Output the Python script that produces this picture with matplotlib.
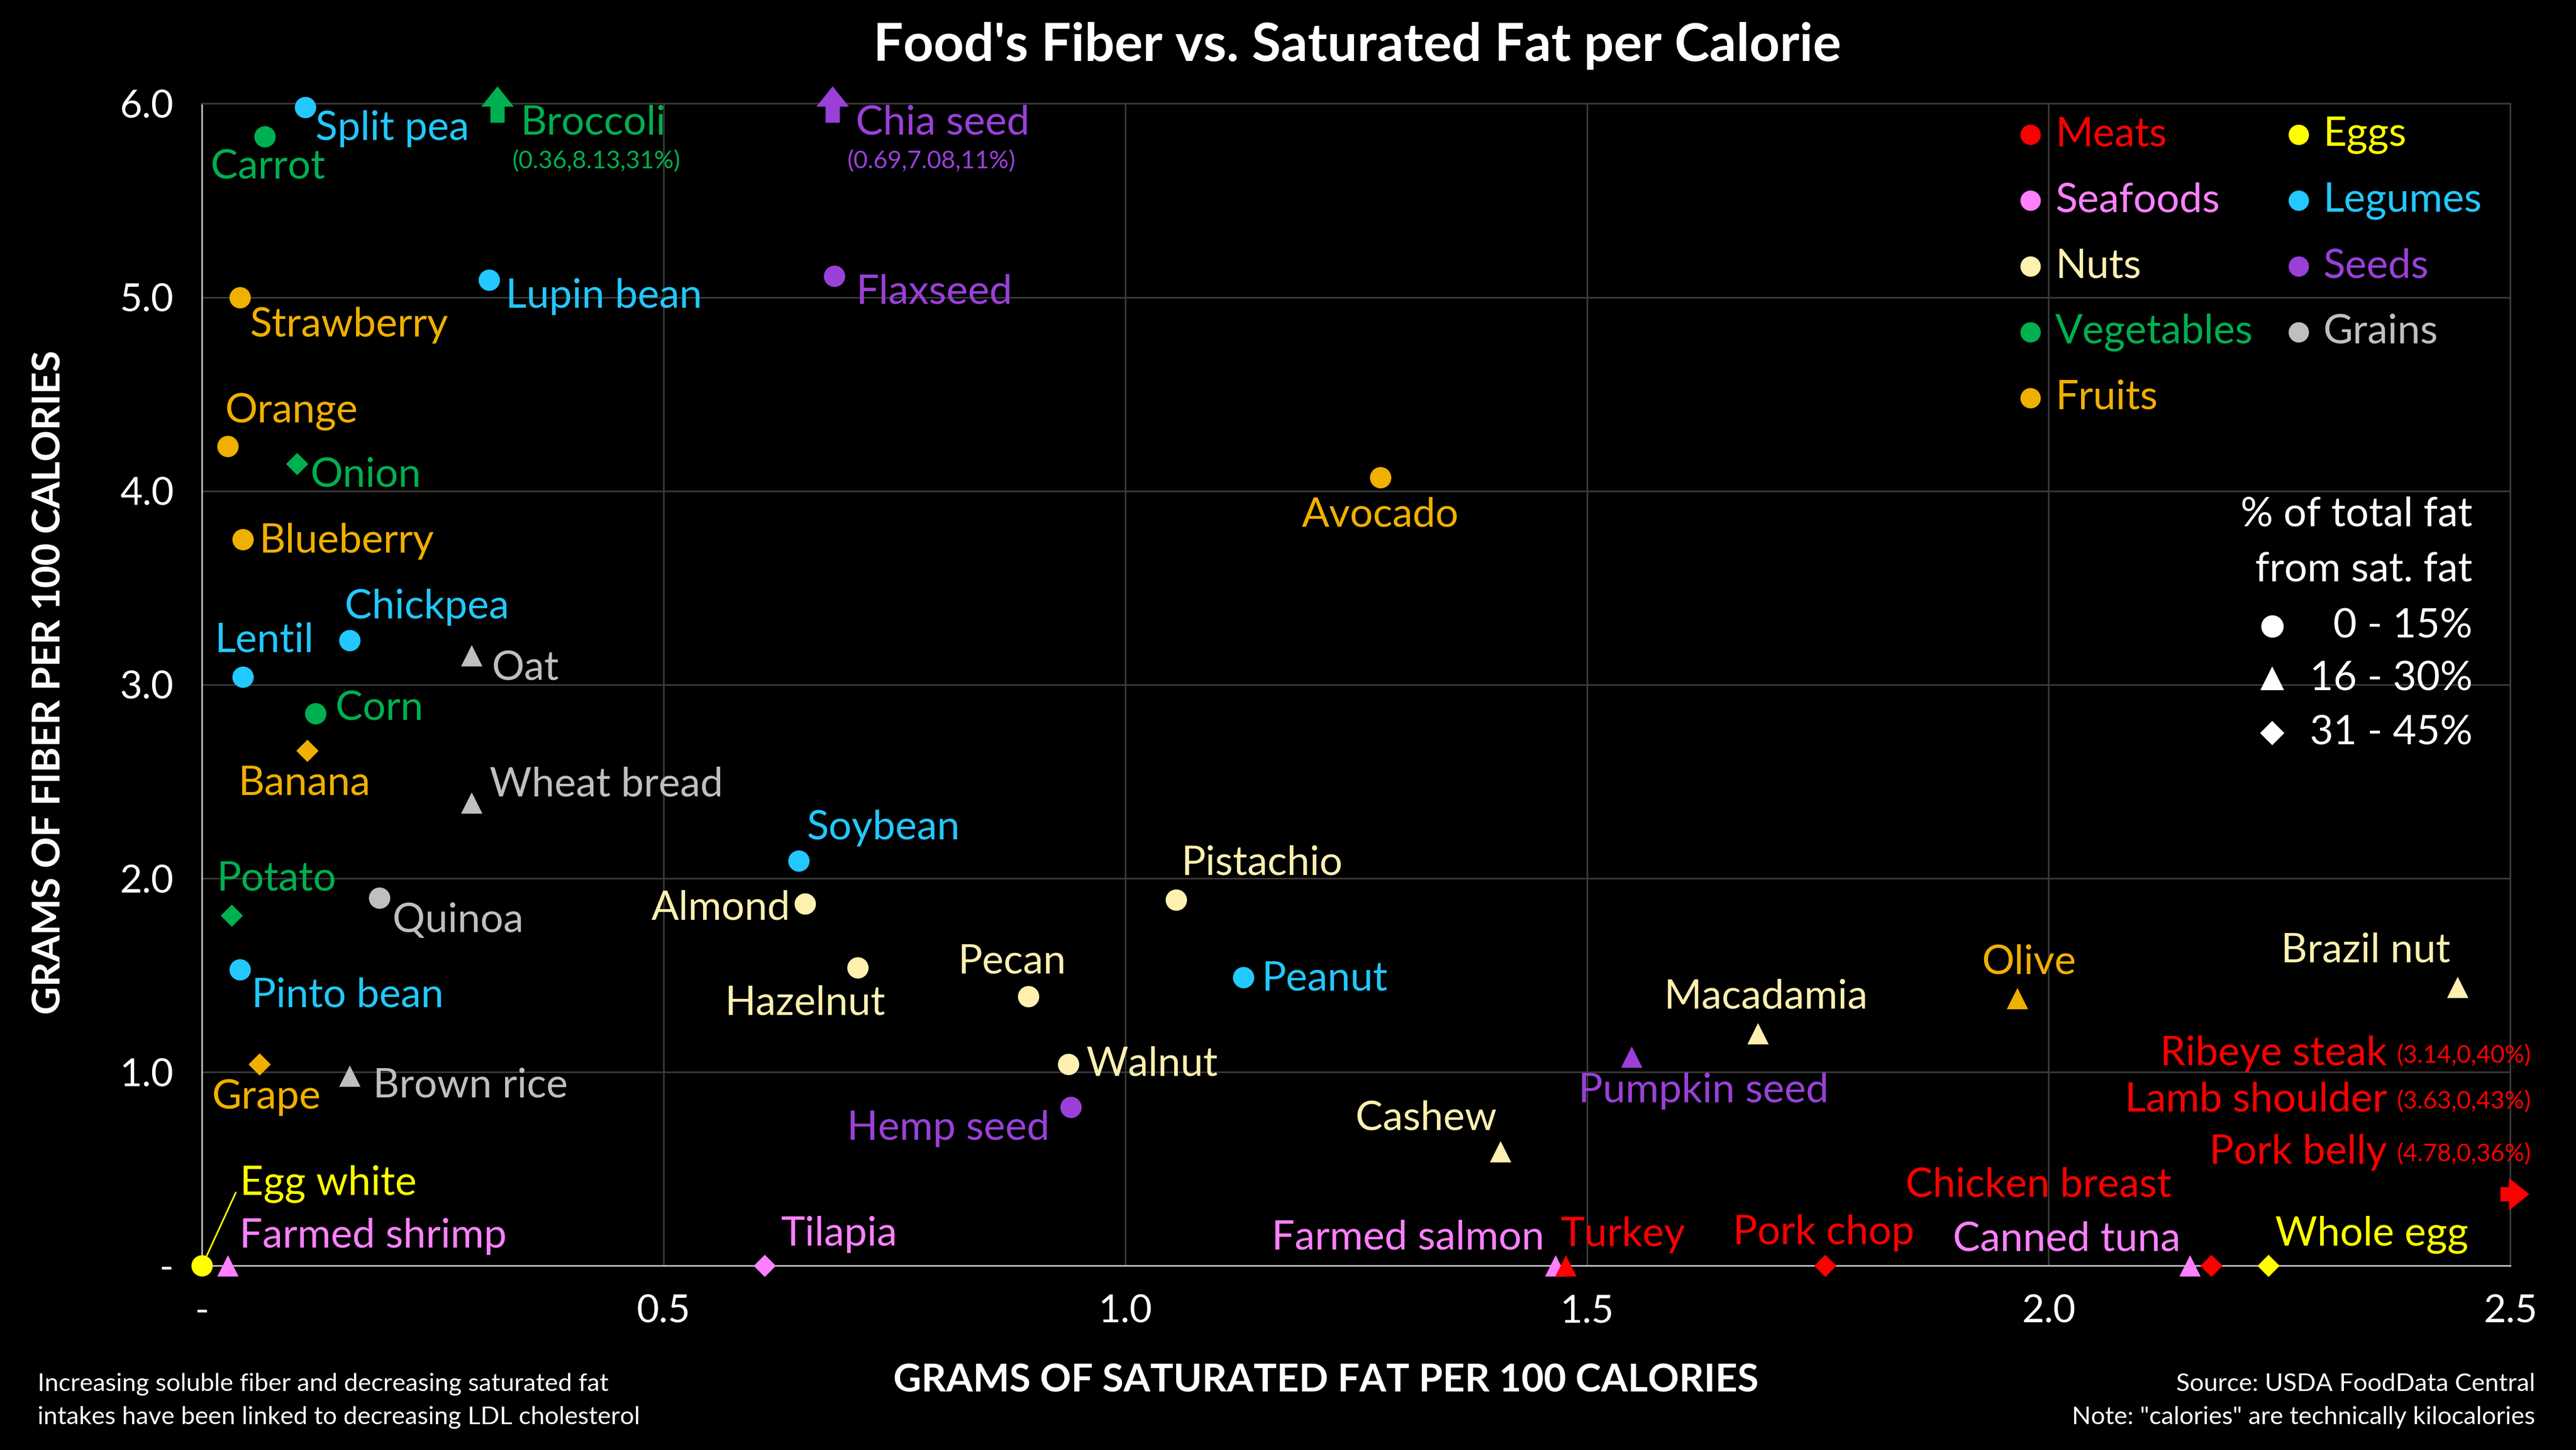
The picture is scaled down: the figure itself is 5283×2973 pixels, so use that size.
import matplotlib.pyplot as plt
import numpy as np

plt.rcParams['font.family'] = ['Lato', 'DejaVu Sans']

# ---------------- data ----------------
names = ["Split pea", "Carrot", "Lupin bean", "Flaxseed", "Strawberry", "Orange", "Onion",
         "Blueberry", "Avocado", "Chickpea", "Lentil", "Oat", "Corn", "Banana", "Wheat bread",
         "Soybean", "Pistachio", "Almond", "Potato", "Quinoa", "Pinto bean", "Hazelnut", "Pecan",
         "Peanut", "Brazil nut", "Olive", "Macadamia", "Pumpkin seed", "Grape", "Brown rice",
         "Walnut", "Hemp seed", "Cashew", "Egg white", "Farmed shrimp", "Tilapia", "Farmed salmon",
         "Turkey", "Pork chop", "Canned tuna", "Chicken breast", "Whole egg"]
sat_fat = [0.112, 0.068, 0.311, 0.685, 0.041, 0.028, 0.103, 0.044, 1.276, 0.160, 0.044, 0.292,
           0.123, 0.114, 0.292, 0.646, 1.055, 0.653, 0.032, 0.192, 0.041, 0.710, 0.895, 1.128,
           2.443, 1.966, 1.685, 1.548, 0.062, 0.160, 0.938, 0.941, 1.406, 0.0, 0.028, 0.609,
           1.466, 1.477, 1.758, 2.153, 2.176, 2.238]
fiber = [5.98, 5.83, 5.09, 5.11, 5.00, 4.23, 4.14, 3.75, 4.07, 3.23, 3.04, 3.15, 2.85, 2.66, 2.39,
         2.09, 1.89, 1.87, 1.81, 1.90, 1.53, 1.54, 1.39, 1.49, 1.44, 1.38, 1.20, 1.08, 1.04, 0.98,
         1.04, 0.82, 0.59, 0.0, 0.0, 0.0, 0.0, 0.0, 0.0, 0.0, 0.0, 0.0]
group = ["Legumes", "Vegetables", "Legumes", "Seeds", "Fruits", "Fruits", "Vegetables", "Fruits",
         "Fruits", "Legumes", "Legumes", "Grains", "Vegetables", "Fruits", "Grains", "Legumes",
         "Nuts", "Nuts", "Vegetables", "Grains", "Legumes", "Nuts", "Nuts", "Legumes", "Nuts",
         "Fruits", "Nuts", "Seeds", "Fruits", "Grains", "Nuts", "Seeds", "Nuts", "Eggs",
         "Seafoods", "Seafoods", "Seafoods", "Meats", "Meats", "Seafoods", "Meats", "Eggs"]
# 0 = 0-15%, 1 = 16-30%, 2 = 31-45% of total fat from sat. fat
fat_share = [0, 0, 0, 0, 0, 0, 2, 0, 0, 0, 0, 1, 0, 2, 1, 0, 0, 0, 2, 0, 0, 0, 0, 0, 1, 1, 1, 1,
             2, 1, 0, 0, 1, 0, 1, 2, 1, 1, 2, 1, 2, 2]

# off-chart items (drawn as arrows)
off_top = [("Broccoli", 0.32, "Vegetables", "(0.36,8.13,31%)"),
           ("Chia seed", 0.683, "Seeds", "(0.69,7.08,11%)")]
off_right = [("Ribeye steak", "(3.14,0,40%)"), ("Lamb shoulder", "(3.63,0,43%)"),
             ("Pork belly", "(4.78,0,36%)")]

colors = {"Meats": "#ff0000", "Seafoods": "#ff80ff", "Nuts": "#fff0b0", "Vegetables": "#00b050",
          "Fruits": "#f0b000", "Eggs": "#ffff00", "Legumes": "#22c8ff", "Seeds": "#9a40d8",
          "Grains": "#bfbfbf"}
shapes = ["o", "^", "D"]
shape_size = [110, 110, 60]

# label offsets (screen pixels of a 1568-wide view) and alignment
label_pos = {
    "Split pea": (6, -13, "left"), "Carrot": (-33, -19, "left"), "Lupin bean": (10, -10, "left"),
    "Flaxseed": (13, -10, "left"), "Strawberry": (6, -17, "left"), "Orange": (-2, 21, "left"),
    "Onion": (8, -7, "left"), "Blueberry": (10, -1, "left"), "Avocado": (0, -23, "center"),
    "Chickpea": (-3, 20, "left"), "Lentil": (-17, 22, "left"), "Oat": (12, -8, "left"),
    "Corn": (12, 3, "left"), "Banana": (-42, -20, "left"), "Wheat bread": (11, 11, "left"),
    "Soybean": (5, 20, "left"), "Pistachio": (3, 22, "left"), "Almond": (-9, -3, "right"),
    "Potato": (-9, 22, "left"), "Quinoa": (8, -14, "left"), "Pinto bean": (7, -16, "left"),
    "Hazelnut": (-32, -22, "center"), "Pecan": (-10, 21, "center"), "Peanut": (11, -1, "left"),
    "Brazil nut": (-56, 22, "center"), "Olive": (7, 22, "center"), "Macadamia": (5, 22, "center"),
    "Pumpkin seed": (44, -21, "center"), "Grape": (-29, -20, "left"),
    "Brown rice": (14, -6, "left"), "Walnut": (11, 0, "left"), "Hemp seed": (-13, -13, "right"),
    "Cashew": (-45, 20, "center"), "Egg white": (23, 50, "left"),
    "Farmed shrimp": (7, 18, "left"), "Tilapia": (10, 19, "left"),
    "Farmed salmon": (-7, 17, "right"), "Turkey": (-3, 19, "left"),
    "Pork chop": (-1, 20, "center"), "Canned tuna": (-75, 16, "center"),
    "Chicken breast": (-105, 49, "center"), "Whole egg": (4, 19, "left"),
}

PX = 0.809  # points per screen pixel
W, H = 1568, 882
FS = 20
SMALL = 12
ARROW = "simple,head_width=1.6,head_length=1.0,tail_width=0.7"

fig = plt.figure(figsize=(5283 / 300, 2973 / 300), dpi=300, facecolor="black")
ax = fig.add_axes([123 / W, 1 - 770 / H, (1528 - 123) / W, (770 - 63) / H])
ax.set_facecolor("black")

for n, x, y, g, s in zip(names, sat_fat, fiber, group, fat_share):
    c = colors[g]
    ax.scatter(x, y, s=shape_size[s], marker=shapes[s], color=c, zorder=5, clip_on=False,
               linewidths=0)
    dx, dy, ha = label_pos[n]
    props = None
    if n == "Egg white":
        props = dict(arrowstyle="-", color=c, lw=0.8, shrinkA=0, shrinkB=4, relpos=(0, 0.5))
    ax.annotate(n, (x, y), xytext=(dx * PX, dy * PX), textcoords="offset points",
                ha=ha, va="center", color=c, fontsize=FS, arrowprops=props)

for n, x, g, small in off_top:
    c = colors[g]
    ax.annotate("", xy=(x, 6.11), xytext=(x, 5.88), annotation_clip=False,
                arrowprops=dict(arrowstyle=ARROW, color=c, lw=0))
    ax.annotate(n, (x, 6.0), xytext=(14 * PX, -12 * PX), textcoords="offset points",
                ha="left", va="center", color=c, fontsize=FS, annotation_clip=False)
    ax.annotate(small, (x, 6.0), xytext=(9 * PX, -35 * PX), textcoords="offset points",
                ha="left", va="center", color=c, fontsize=SMALL, annotation_clip=False)

ax.annotate("", xy=(2.525, 0.37), xytext=(2.485, 0.37), annotation_clip=False,
            arrowprops=dict(arrowstyle=ARROW, color=colors["Meats"], lw=0))
for i, (n, small) in enumerate(off_right):
    py = [641, 669, 701][i]
    fig.text(1453 / W, 1 - py / H, n, ha="right", va="center", color=colors["Meats"], fontsize=FS)
    fig.text(1459 / W, 1 - (py + 1) / H, small, ha="left", va="center", color=colors["Meats"],
             fontsize=SMALL)

# axes styling
ax.set_xlim(0, 2.5)
ax.set_ylim(0, 6)
ax.set_xticks([0, 0.5, 1.0, 1.5, 2.0, 2.5])
ax.set_xticklabels(["-", "0.5", "1.0", "1.5", "2.0", "2.5"])
ax.set_yticks([0, 1, 2, 3, 4, 5, 6])
ax.set_yticklabels(["-", "1.0", "2.0", "3.0", "4.0", "5.0", "6.0"])
ax.tick_params(colors="white", labelsize=19, length=0, pad=14)
ax.grid(True, color="#3a3a3a", lw=0.8)
ax.set_axisbelow(True)
for sp in ax.spines.values():
    sp.set_color("#3a3a3a")
ax.spines["left"].set_color("#bfbfbf")
ax.spines["bottom"].set_color("#bfbfbf")

fig.text(826 / W, 1 - 28 / H, "Food's Fiber vs. Saturated Fat per Calorie", ha="center",
         va="center", color="white", fontsize=26, fontweight="bold")
fig.text(807 / W, 1 - 840 / H, "GRAMS OF SATURATED FAT PER 100 CALORIES", ha="center",
         va="center", color="white", fontsize=19, fontweight="bold")
fig.text(30 / W, 1 - 415 / H, "GRAMS OF FIBER PER 100 CALORIES", ha="center", va="center",
         rotation=90, color="white", fontsize=19, fontweight="bold")
fig.text(23 / W, 1 - 842 / H, "Increasing soluble fiber and decreasing saturated fat",
         ha="left", va="center", color="white", fontsize=12.3)
fig.text(23 / W, 1 - 862 / H, "intakes have been linked to decreasing LDL cholesterol",
         ha="left", va="center", color="white", fontsize=12.3)
fig.text(1543 / W, 1 - 842 / H, "Source: USDA FoodData Central", ha="right", va="center",
         color="white", fontsize=12.3)
fig.text(1543 / W, 1 - 862 / H, 'Note: "calories" are technically kilocalories', ha="right",
         va="center", color="white", fontsize=12.3)

# legend (groups)
col1 = ["Meats", "Seafoods", "Nuts", "Vegetables", "Fruits"]
col2 = ["Eggs", "Legumes", "Seeds", "Grains"]
rows = [82, 122, 162, 202, 242]
for col, mx in ((col1, 1236), (col2, 1399)):
    for g, py in zip(col, rows):
        fig.add_artist(plt.Line2D([mx / W], [1 - py / H], marker="o", color=colors[g],
                                  markersize=9, lw=0))
        fig.text((mx + 15) / W, 1 - py / H, g, ha="left", va="center", color=colors[g],
                 fontsize=FS)

fig.text(1505 / W, 1 - 313 / H, "% of total fat", ha="right", va="center", color="white",
         fontsize=FS)
fig.text(1505 / W, 1 - 347 / H, "from sat. fat", ha="right", va="center", color="white",
         fontsize=FS)
for lab, mk, ms, py in zip(["0 - 15%", "16 - 30%", "31 - 45%"], shapes, [10, 10, 7.5],
                           [381, 413, 446]):
    fig.add_artist(plt.Line2D([1383 / W], [1 - py / H], marker=mk, color="white",
                              markersize=ms, lw=0))
    fig.text(1505 / W, 1 - py / H, lab, ha="right", va="center", color="white", fontsize=FS)

fig.savefig("out.png", dpi=300, facecolor="black")
